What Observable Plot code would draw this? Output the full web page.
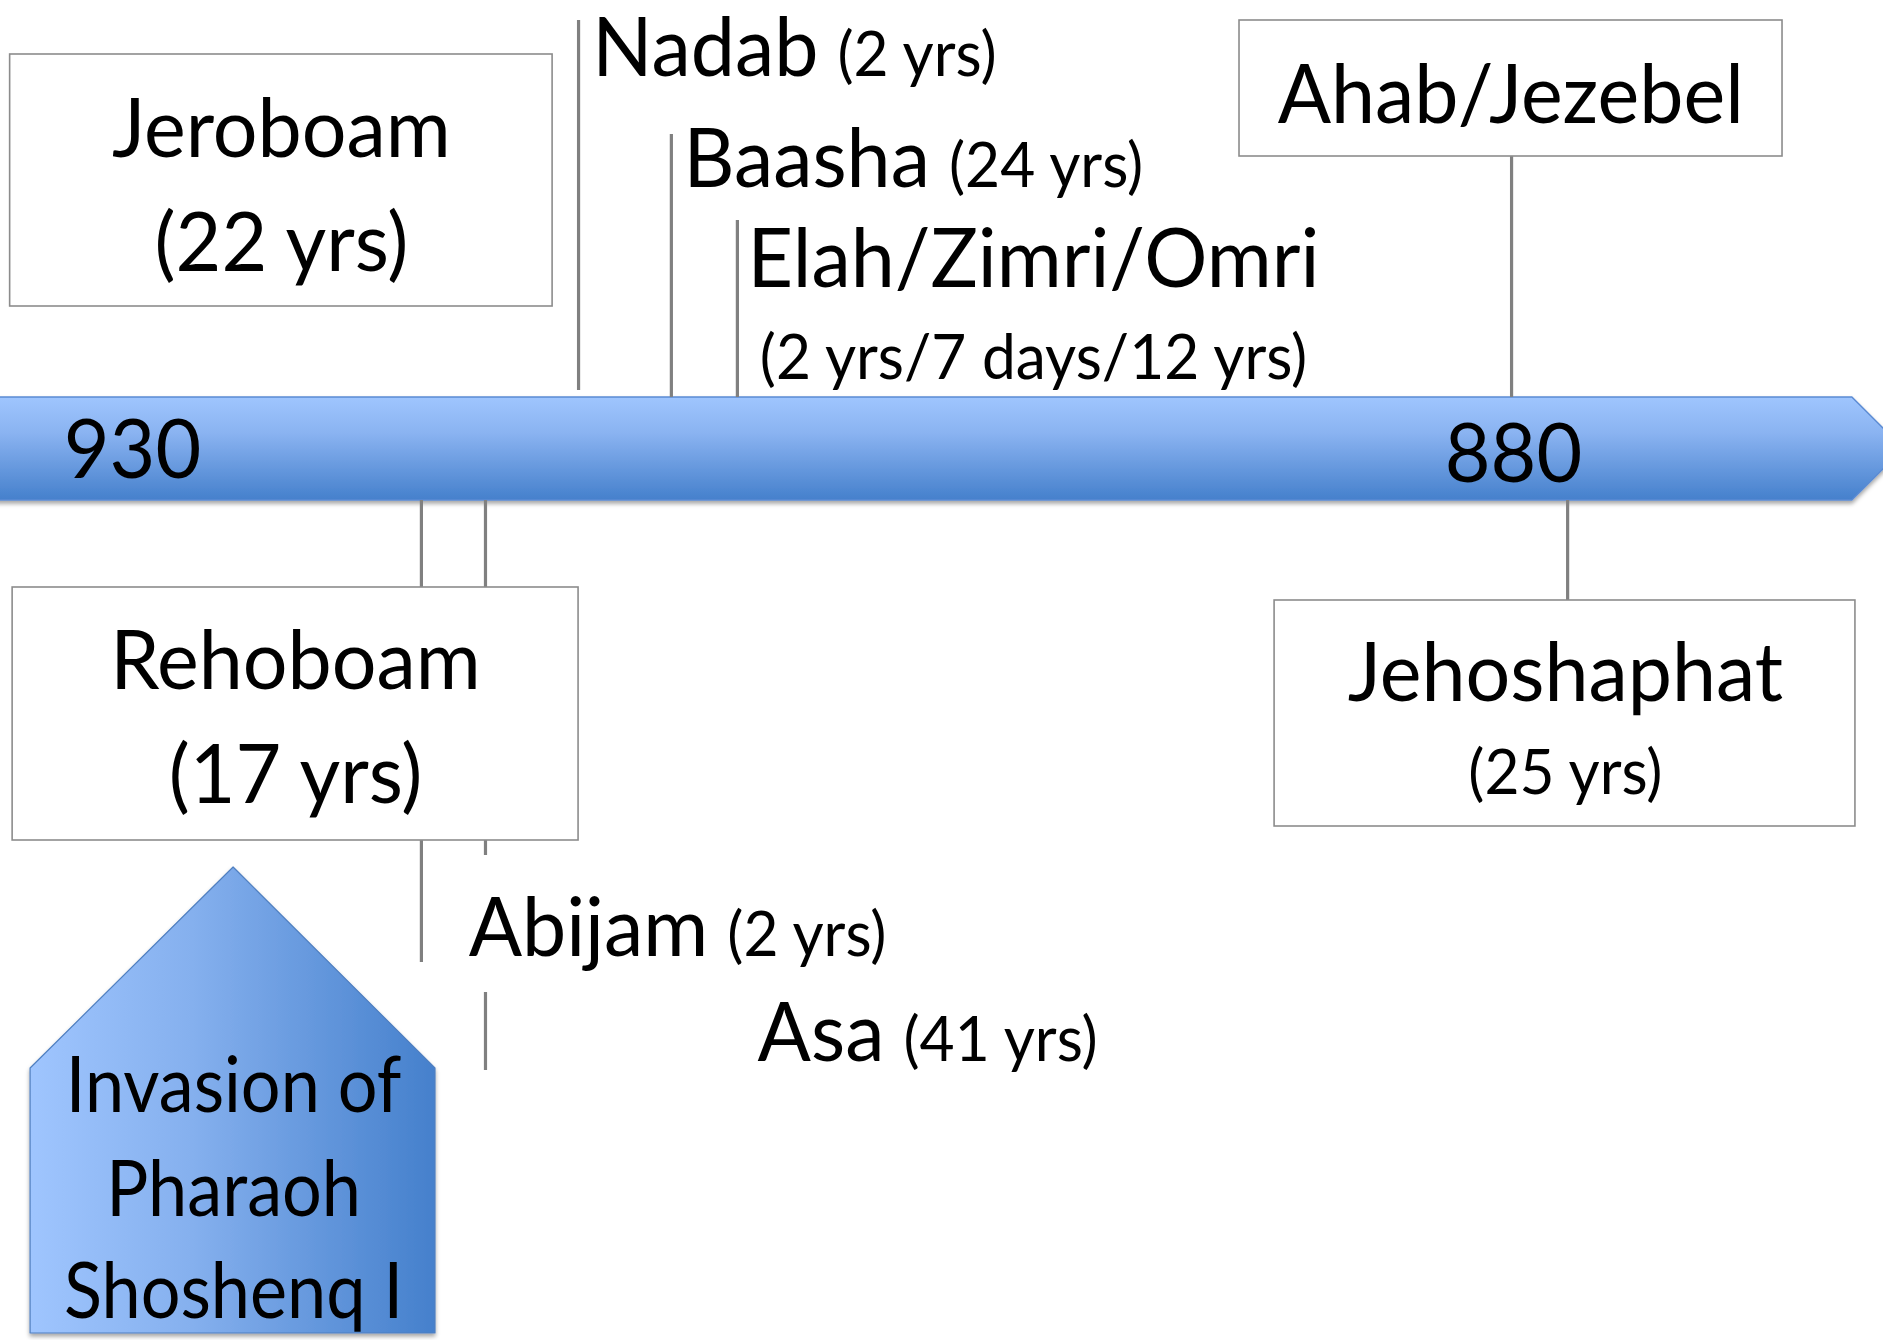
<!DOCTYPE html>
<html>
<head>
<meta charset="utf-8">
<script src="https://cdn.jsdelivr.net/npm/d3@7"></script>
<script src="https://cdn.jsdelivr.net/npm/@observablehq/plot@0.6"></script>
<style>
  html, body { margin: 0; padding: 0; background: #fff; }
  svg { display: block; }
</style>
</head>
<body>
<div id="chart"></div>
<script>
// ---------------- DATA ----------------
// Years printed on the time bar
const barYears = [930, 880];
const barYearLabels = ["930", "880"];

// Kings of Israel (above the bar)
const israelKings  = ["Jeroboam", "Nadab", "Baasha", "Elah/Zimri/Omri", "Ahab/Jezebel"];
const israelReigns = ["(22 yrs)", "(2 yrs)", "(24 yrs)", "(2 yrs/7 days/12 yrs)", ""];
// where each king's marker meets the bar (in years BC)
const israelMarks  = [null, 913.85, 910.49, 908.10, 880.07];

// Kings of Judah (below the bar)
const judahKings  = ["Rehoboam", "Abijam", "Asa", "Jehoshaphat"];
const judahReigns = ["(17 yrs)", "(2 yrs)", "(41 yrs)", "(25 yrs)"];
const judahMarks  = [null, 919.54, 917.22, 878.04];

// Event
const eventText = ["Invasion of", "Pharaoh", "Shoshenq I"];
const eventYear = 926.34;

// ---------------- LAYOUT ----------------
const FONT = "Lato, 'Open Sans', sans-serif";
const BIG = 81, SMALL = 62, EVENT = 78, EVENT_SQUEEZE = 0.9, BIG_SQUEEZE = 0.975;
const xDomain = [930, 880], xRange = [132, 1513];
const xs = d3.scaleLinear(xDomain, xRange);

const ctx = document.createElement("canvas").getContext("2d");
const measure = (s, size) => { ctx.font = `${size}px Lato`; return ctx.measureText(s).width; };

// time bar outline (arrow)
const barTop = 397, barBottom = 500, barMid = 448.5;
const barShape = [
  {x: 935.2, y1: barTop, y2: barBottom},
  {x: 867.73, y1: barTop, y2: barBottom},
  {x: 865.86, y1: barMid, y2: barMid}
];

// event pentagon
const pentagon = [
  {x: 933.69, y1: 1068, y2: 1333},
  {x: eventYear, y1: 867, y2: 1333},
  {x: 919.03, y1: 1068, y2: 1333}
];

const rules = [
  {x: israelMarks[1], y1: 20,  y2: 390},
  {x: israelMarks[2], y1: 134, y2: 397},
  {x: israelMarks[3], y1: 220, y2: 397},
  {x: israelMarks[4], y1: 156, y2: 397},
  {x: judahMarks[1],  y1: 500, y2: 962},
  {x: judahMarks[2],  y1: 500, y2: 855},
  {x: judahMarks[2],  y1: 992, y2: 1070},
  {x: judahMarks[3],  y1: 500, y2: 600}
];

const boxes = [
  {x1: 934.43, x2: 914.79, y1: 54,  y2: 306},  // Jeroboam
  {x1: 889.92, x2: 870.26, y1: 20,  y2: 156},  // Ahab/Jezebel
  {x1: 934.34, x2: 913.85, y1: 587, y2: 840},  // Rehoboam
  {x1: 888.65, x2: 867.62, y1: 600, y2: 826}   // Jehoshaphat
];

// centered large texts
const bigCentered = [
  {x: 924.61, y: 156, t: israelKings[0]},
  {x: 924.61, y: 270, t: israelReigns[0]},
  {x: 880.10, y: 122.5, t: israelKings[4]},
  {x: 897.38, y: 286, t: israelKings[3]},
  {x: 924.10, y: 688, t: judahKings[0]},
  {x: 924.10, y: 802, t: judahReigns[0]},
  {x: 878.12, y: 700, t: judahKings[3]},
  {x: barYears[0], y: 477, t: barYearLabels[0]},
  {x: barYears[1], y: 481, t: barYearLabels[1]}
];
const smallCentered = [
  {x: 897.38, y: 378, t: israelReigns[3]},
  {x: 878.12, y: 793, t: judahReigns[3]}
];
// name + reign written on one line
const inline = [
  {x: 913.35, y: 75.5, name: israelKings[1], reign: israelReigns[1]},
  {x: 910.05, y: 186,  name: israelKings[2], reign: israelReigns[2]},
  {x: 917.83, y: 955,  name: judahKings[1],  reign: judahReigns[1]},
  {x: 907.37, y: 1060, name: judahKings[2],  reign: judahReigns[2]}
];
const inlineReigns = inline.map(d => ({
  x: xs.invert(xs(d.x) + measure(d.name, BIG) * BIG_SQUEEZE + 19), y: d.y, t: d.reign
}));
const eventLabels = eventText.map((t, i) => ({x: eventYear, y: [1111, 1215, 1317][i], t}));

// ---------------- PLOT ----------------
const chart = Plot.plot({
  width: 1883,
  height: 1340,
  margin: 0,
  style: {background: "#fff", fontFamily: FONT},
  x: {domain: xDomain, range: xRange, axis: null},
  y: {domain: [0, 1340], range: [0, 1340], axis: null},
  marks: [
    Plot.areaY(barShape, {x: "x", y1: "y1", y2: "y2", fill: "url(#barGrad)", stroke: "#5b8bd3", strokeWidth: 1.5}),
    Plot.ruleX(rules, {x: "x", y1: "y1", y2: "y2", stroke: "#808080", strokeWidth: 3.2}),
    Plot.rect(boxes, {x1: "x1", x2: "x2", y1: "y1", y2: "y2", fill: "#fff", stroke: "#8c8c8c", strokeWidth: 1.6}),
    Plot.areaY(pentagon, {x: "x", y1: "y1", y2: "y2", fill: "url(#pentGrad)", stroke: "#4f7fc0", strokeWidth: 1.2}),
    Plot.text(bigCentered, {x: "x", y: "y", text: "t", fontSize: BIG, fontFamily: FONT, textAnchor: "middle", lineAnchor: "bottom", fill: "#000"}),
    Plot.text(smallCentered, {x: "x", y: "y", text: "t", fontSize: SMALL, fontFamily: FONT, textAnchor: "middle", lineAnchor: "bottom", fill: "#000"}),
    Plot.text(inline, {x: "x", y: "y", text: "name", fontSize: BIG, fontFamily: FONT, textAnchor: "start", lineAnchor: "bottom", fill: "#000"}),
    Plot.text(inlineReigns, {x: "x", y: "y", text: "t", fontSize: SMALL, fontFamily: FONT, textAnchor: "start", lineAnchor: "bottom", fill: "#000"}),
    Plot.text(eventLabels, {x: "x", y: "y", text: "t", fontSize: EVENT, fontFamily: FONT, textAnchor: "middle", lineAnchor: "bottom", fill: "#000"})
  ]
});

const root = d3.select(chart);
root.insert("defs", ":first-child").html(`
  <linearGradient id="barGrad" x1="0" y1="0" x2="0" y2="1">
    <stop offset="0" stop-color="#9fc5fe"/>
    <stop offset="0.35" stop-color="#8ab3f1"/>
    <stop offset="1" stop-color="#4580cc"/>
  </linearGradient>
  <linearGradient id="pentGrad" x1="0" y1="0" x2="1" y2="0">
    <stop offset="0" stop-color="#9fc5fe"/>
    <stop offset="0.4" stop-color="#85b0ee"/>
    <stop offset="1" stop-color="#4580cc"/>
  </linearGradient>
  <filter id="shadow" x="-5%" y="-10%" width="110%" height="130%">
    <feDropShadow dx="0" dy="3" stdDeviation="2" flood-color="#000" flood-opacity="0.35"/>
  </filter>`);
root.selectAll('g[aria-label="area"]').attr("filter", "url(#shadow)");

// The original is set in a narrow face: squeeze the texts a little horizontally
function squeeze(group, k) {
  d3.select(group).selectAll("text").each(function () {
    const t = this.getAttribute("transform");
    if (t) {
      this.setAttribute("transform", `${t} scale(${k},1)`);
    } else {
      const x = +this.getAttribute("x") || 0, y = +this.getAttribute("y") || 0;
      this.removeAttribute("x"); this.removeAttribute("y");
      this.setAttribute("transform", `translate(${x},${y}) scale(${k},1)`);
    }
  });
}
const textGroups = root.selectAll('g[aria-label="text"]').nodes();
textGroups.forEach((g, i) => squeeze(g, i === textGroups.length - 1 ? EVENT_SQUEEZE : BIG_SQUEEZE));

document.getElementById("chart").appendChild(chart);
</script>
</body>
</html>
